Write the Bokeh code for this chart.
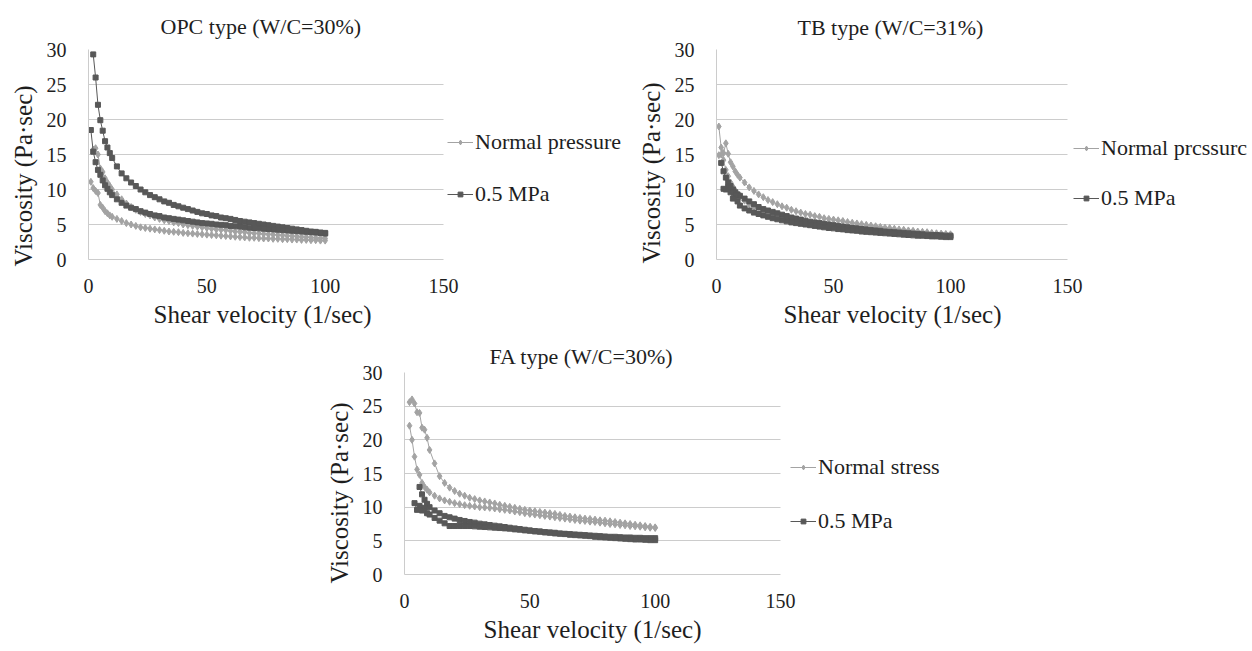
import math
from bokeh.plotting import figure
from bokeh.models import Range1d, FixedTicker, Legend, LegendItem, Title, Spacer
from bokeh.layouts import column, row
from bokeh.embed import file_html
from bokeh.resources import INLINE

nan = float("nan")

# shear velocity (1/sec) sampled along each ramp
shear_velocity = [1, 2, 3, 4, 5, 6, 7, 8, 9, 10,
                  12, 14, 16, 18, 20, 22, 24, 26, 28, 30,
                  32, 34, 36, 38, 40, 42, 44, 46, 48, 50,
                  52, 54, 56, 58, 60, 62, 64, 66, 68, 70,
                  72, 74, 76, 78, 80, 82, 84, 86, 88, 90,
                  92, 94, 96, 98, 100]

x_ticks = [0, 50, 100, 150]
y_ticks = [0, 5, 10, 15, 20, 25, 30]
x_max = 150
y_max = 30

# ---------------- OPC type (W/C=30%) ----------------
opc_normal_up = [nan, 15.7, 15.9, 15.0, 13.0, 12.5, 11.6, 11.0, 10.5, 10.0,
                 9.3, 8.6, 8.0, 7.5, 7.1, 6.8, 6.5, 6.3, 6.0, 5.8,
                 5.6, 5.5, 5.3, 5.2, 5.0, 4.9, 4.8, 4.7, 4.6, 4.5,
                 4.4, 4.3, 4.25, 4.2, 4.1, 4.0, 3.95, 3.9, 3.8, 3.75,
                 3.7, 3.65, 3.6, 3.55, 3.5, 3.45, 3.4, 3.35, 3.3, 3.25,
                 3.2, 3.15, 3.1, 3.05, 3.0]
opc_normal_down = [11.1, 10.2, 9.8, 9.5, 7.8, 7.4, 6.9, 6.6, 6.3, 6.1,
                   5.8, 5.5, 5.2, 5.0, 4.8, 4.6, 4.5, 4.4, 4.3, 4.2,
                   4.1, 4.0, 3.95, 3.9, 3.8, 3.75, 3.7, 3.65, 3.6, 3.55,
                   3.5, 3.45, 3.4, 3.35, 3.3, 3.25, 3.2, 3.15, 3.1, 3.1,
                   3.05, 3.0, 3.0, 2.95, 2.95, 2.9, 2.9, 2.85, 2.85, 2.8,
                   2.8, 2.75, 2.75, 2.7, 2.7]
opc_mpa_up = [nan, 29.3, 26.0, 22.1, 19.9, 18.4, 16.9, 16.0, 15.2, 14.5,
              13.3, 12.3, 11.6, 11.0, 10.5, 10.0, 9.6, 9.2, 8.9, 8.6,
              8.3, 8.1, 7.8, 7.6, 7.4, 7.2, 7.0, 6.8, 6.6, 6.5,
              6.3, 6.2, 6.0, 5.9, 5.8, 5.65, 5.5, 5.4, 5.3, 5.2,
              5.1, 5.0, 4.9, 4.8, 4.7, 4.6, 4.5, 4.4, 4.3, 4.2,
              4.1, 4.0, 3.95, 3.85, 3.8]
opc_mpa_down = [18.5, 15.4, 13.9, 12.8, 12.1, 11.3, 10.6, 10.1, 9.6, 9.2,
                8.6, 8.1, 7.7, 7.4, 7.2, 6.9, 6.7, 6.5, 6.3, 6.2,
                6.0, 5.9, 5.8, 5.7, 5.6, 5.5, 5.4, 5.3, 5.2, 5.15,
                5.1, 5.0, 4.95, 4.9, 4.8, 4.75, 4.7, 4.6, 4.55, 4.5,
                4.45, 4.4, 4.35, 4.3, 4.25, 4.2, 4.15, 4.1, 4.05, 4.0,
                3.95, 3.9, 3.85, 3.8, 3.7]

# ---------------- TB type (W/C=31%) ----------------
tb_normal_up = [19.0, 16.0, 15.2, 16.6, 15.1, 13.9, 13.3, 12.6, 12.1, 11.7,
                11.0, 10.3, 9.8, 9.3, 8.9, 8.5, 8.2, 7.9, 7.6, 7.4,
                7.1, 6.9, 6.7, 6.5, 6.4, 6.2, 6.1, 5.9, 5.8, 5.7,
                5.6, 5.5, 5.35, 5.25, 5.15, 5.05, 4.95, 4.85, 4.75, 4.65,
                4.55, 4.5, 4.4, 4.3, 4.25, 4.15, 4.1, 4.0, 3.95, 3.9,
                3.8, 3.75, 3.7, 3.65, 3.6]
tb_normal_down = [14.9, 15.0, 14.2, 12.8, 11.9, 11.0, 10.4, 9.9, 9.4, 9.0,
                  8.4, 7.9, 7.5, 7.2, 6.9, 6.7, 6.5, 6.3, 6.1, 5.95,
                  5.8, 5.65, 5.5, 5.4, 5.3, 5.2, 5.1, 5.0, 4.9, 4.8,
                  4.75, 4.65, 4.6, 4.5, 4.45, 4.4, 4.3, 4.25, 4.2, 4.15,
                  4.1, 4.05, 4.0, 3.95, 3.9, 3.85, 3.8, 3.75, 3.7, 3.7,
                  3.65, 3.6, 3.6, 3.55, 3.5]
tb_mpa_up = [nan, 13.8, 12.6, 11.7, 11.0, 10.5, 10.0, 9.6, 9.3, 9.1,
             8.7, 8.3, 7.9, 7.5, 7.2, 7.0, 6.8, 6.6, 6.4, 6.2,
             6.0, 5.85, 5.7, 5.55, 5.4, 5.3, 5.2, 5.1, 5.0, 4.9,
             4.8, 4.7, 4.6, 4.5, 4.45, 4.35, 4.3, 4.2, 4.15, 4.1,
             4.0, 3.95, 3.9, 3.85, 3.8, 3.75, 3.7, 3.65, 3.6, 3.55,
             3.5, 3.5, 3.45, 3.4, 3.4]
tb_mpa_down = [nan, nan, 10.1, 10.0, 10.3, 9.6, 8.7, 9.1, 8.3, 7.7,
               7.3, 7.0, 6.7, 6.5, 6.3, 6.1, 5.9, 5.75, 5.6, 5.45,
               5.3, 5.2, 5.1, 5.0, 4.9, 4.8, 4.7, 4.6, 4.5, 4.45,
               4.35, 4.3, 4.2, 4.15, 4.1, 4.0, 3.95, 3.9, 3.85, 3.8,
               3.75, 3.7, 3.65, 3.6, 3.55, 3.5, 3.45, 3.4, 3.4, 3.35,
               3.3, 3.3, 3.25, 3.2, 3.2]

# ---------------- FA type (W/C=30%) ----------------
fa_normal_up = [nan, 25.6, 26.0, 25.4, 24.1, 24.0, 21.8, 21.5, 20.3, 18.5,
                16.5, 14.6, 13.6, 12.9, 12.4, 12.0, 11.7, 11.4, 11.2, 11.0,
                10.85, 10.7, 10.55, 10.35, 10.2, 10.05, 9.9, 9.75, 9.6, 9.5,
                9.4, 9.3, 9.2, 9.1, 9.0, 8.85, 8.7, 8.6, 8.5, 8.4,
                8.3, 8.25, 8.15, 8.05, 8.0, 7.9, 7.8, 7.7, 7.6, 7.5,
                7.4, 7.3, 7.2, 7.1, 7.0]
fa_normal_down = [nan, 22.1, 20.0, 17.5, 15.6, 14.8, 13.6, 13.0, 12.6, 12.2,
                  11.7, 11.3, 11.0, 10.8, 10.6, 10.45, 10.3, 10.2, 10.1, 10.0,
                  9.95, 9.9, 9.8, 9.7, 9.6, 9.5, 9.35, 9.25, 9.1, 9.0,
                  8.9, 8.8, 8.7, 8.6, 8.5, 8.4, 8.3, 8.2, 8.1, 8.0,
                  7.95, 7.85, 7.8, 7.7, 7.6, 7.5, 7.45, 7.35, 7.3, 7.2,
                  7.15, 7.1, 7.0, 6.95, 6.9]
fa_mpa_up = [nan, nan, nan, nan, nan, 13.0, 11.9, 11.1, 10.5, 10.0,
             9.5, 9.1, 8.7, 8.5, 8.3, 8.1, 7.95, 7.8, 7.7, 7.55,
             7.45, 7.35, 7.25, 7.15, 7.05, 6.95, 6.85, 6.75, 6.65, 6.55,
             6.45, 6.4, 6.3, 6.25, 6.2, 6.1, 6.05, 6.0, 5.95, 5.9,
             5.85, 5.8, 5.75, 5.7, 5.65, 5.6, 5.6, 5.55, 5.5, 5.5,
             5.45, 5.45, 5.4, 5.4, 5.4]
fa_mpa_down = [nan, nan, nan, 10.6, 9.6, 10.2, 9.5, 9.9, 9.1, 8.9,
               8.4, 8.0, 7.6, 7.2, 7.2, 7.2, 7.2, 7.2, 7.15, 7.1,
               7.05, 7.0, 6.95, 6.9, 6.85, 6.8, 6.7, 6.65, 6.55, 6.5,
               6.4, 6.35, 6.25, 6.2, 6.1, 6.05, 6.0, 5.9, 5.85, 5.8,
               5.75, 5.7, 5.6, 5.55, 5.5, 5.45, 5.4, 5.35, 5.3, 5.25,
               5.2, 5.2, 5.15, 5.1, 5.1]

FONT = "Liberation Serif"
TEXT = "#1e1e1e"
LIGHT = "#a3a3a3"
DARK = "#585858"
GRID = "#cccccc"


def loop(up, down):
    xs = shear_velocity + shear_velocity[::-1]
    ys = up + down[::-1]
    return xs, ys


def panel(title, normal_label, normal, mpa, cw, pw, fh, bl, bt, bb,
          title_standoff, title_offset, xlab_offset, ylab_offset,
          leg_x, leg_y, leg_spacing):
    # the frame runs to the right edge of the canvas so that the legend can
    # sit beside the plotting area; axis and grid are bounded to 0..150
    x_end = x_max * (cw - bl) / pw
    p = figure(width=cw, height=bt + fh + bb,
               min_border_left=bl, min_border_right=0,
               min_border_top=bt, min_border_bottom=bb,
               x_range=Range1d(0, x_end), y_range=Range1d(0, y_max),
               output_backend="svg", toolbar_location=None)
    p.outline_line_color = None
    p.background_fill_color = "white"
    p.border_fill_color = "white"

    ttl = Title(text=title, align="left", offset=title_offset,
                standoff=title_standoff, text_font=FONT,
                text_font_size="22px", text_font_style="normal",
                text_color=TEXT)
    p.add_layout(ttl, "above")

    p.xaxis.ticker = FixedTicker(ticks=x_ticks)
    p.yaxis.ticker = FixedTicker(ticks=y_ticks)
    p.xaxis.bounds = (0, x_max)
    for ax in (p.xaxis[0], p.yaxis[0]):
        ax.axis_line_color = GRID
        ax.axis_line_width = 1
        ax.major_tick_line_color = None
        ax.minor_tick_line_color = None
        ax.major_label_text_font = FONT
        ax.major_label_text_font_size = "20px"
        ax.major_label_text_color = TEXT
    p.xaxis.major_label_standoff = 13
    p.yaxis.major_label_standoff = 16

    xlab = Title(text="Shear velocity (1/sec)", align="left",
                 offset=xlab_offset, standoff=10, vertical_align="top",
                 text_font=FONT, text_font_size="25px",
                 text_font_style="normal", text_color=TEXT)
    p.add_layout(xlab, "below")

    ylab = Title(text="Viscosity (Pa\u00b7sec)", align="left",
                 offset=ylab_offset, standoff=13, vertical_align="bottom",
                 text_font=FONT, text_font_size="25px",
                 text_font_style="normal", text_color=TEXT)
    p.add_layout(ylab, "left")

    p.xgrid.visible = False
    try:
        p.ygrid.cross_bounds = (0, x_max)
        p.ygrid.grid_line_color = GRID
        p.ygrid.grid_line_width = 1
    except Exception:
        p.ygrid.visible = False
        p.segment(x0=[0] * len(y_ticks), x1=[x_max] * len(y_ticks),
                  y0=y_ticks, y1=y_ticks, line_color=GRID, line_width=1)

    nx, ny = loop(*normal)
    mx, my = loop(*mpa)
    l1 = p.line(nx, ny, line_color=LIGHT, line_width=1)
    s1 = p.scatter(nx, ny, marker="diamond", size=7, fill_color=LIGHT,
                   line_color=LIGHT)
    l2 = p.line(mx, my, line_color=DARK, line_width=1)
    s2 = p.scatter(mx, my, marker="square", size=5, fill_color=DARK,
                   line_color=DARK)

    legend = Legend(items=[LegendItem(label=normal_label, renderers=[l1, s1]),
                           LegendItem(label="0.5 MPa", renderers=[l2, s2])],
                    location=(leg_x, leg_y), orientation="vertical",
                    border_line_color=None, background_fill_alpha=0,
                    padding=0, margin=0, spacing=leg_spacing,
                    glyph_width=26, glyph_height=12, label_height=26,
                    label_standoff=2, label_text_font=FONT,
                    label_text_font_size="22px", label_text_color=TEXT)
    p.add_layout(legend)
    return p


p1 = panel("OPC type (W/C=30%)", "Normal pressure",
           (opc_normal_up, opc_normal_down), (opc_mpa_up, opc_mpa_down),
           628, 355, 211, 88, 49, 76, 21, 72, 65, -7, 359, 52, 26)
p2 = panel("TB type (W/C=31%)", "Normal prcssurc",
           (tb_normal_up, tb_normal_down), (tb_mpa_up, tb_mpa_down),
           622, 351, 210, 88, 49, 77, 20, 81, 67, -4, 357, 48, 24)
p3 = panel("FA type (W/C=30%)", "Normal stress",
           (fa_normal_up, fa_normal_down), (fa_mpa_up, fa_mpa_down),
           634, 376, 202, 88, 36, 76, 8, 85, 79, -9, 386, 40, 28)

layout = column(row(p1, p2), row(Spacer(width=316, height=10), p3))
open("out.html", "w").write(file_html(layout, INLINE))
